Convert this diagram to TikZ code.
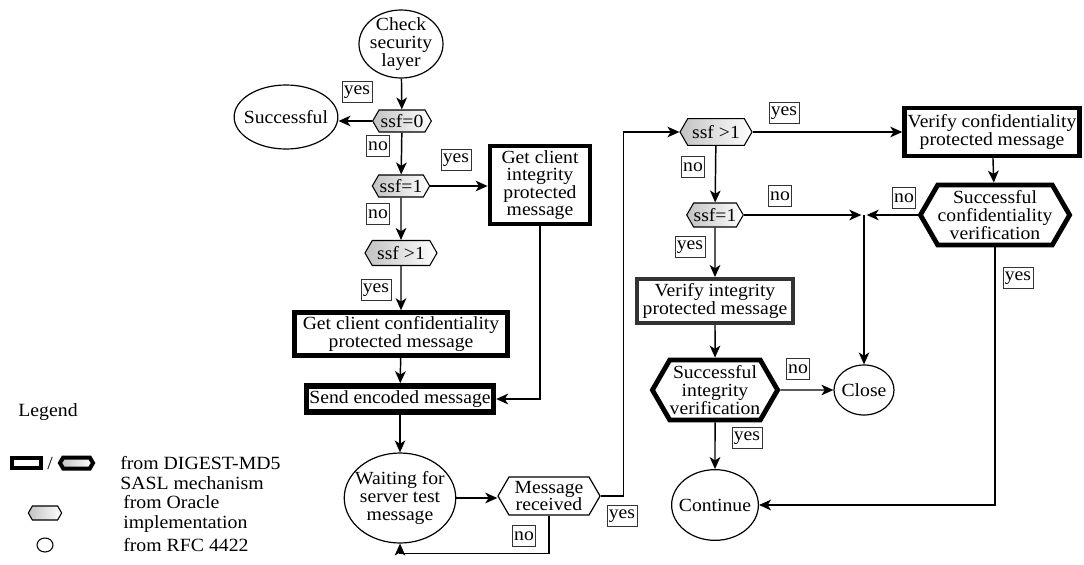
\documentclass[tikz,border=0pt]{standalone}
\usepackage{fontspec}
\setmainfont{Liberation Serif}[FakeStretch=1.06]
\usetikzlibrary{shapes.geometric,shapes.symbols,arrows.meta}

\begin{document}
\begin{tikzpicture}[x=0.75pt,y=-0.75pt,
  every node/.style={font=\fontsize{13.9}{13.2}\selectfont, inner sep=0pt},
  conn/.style={line width=1.1pt, draw=black},
  arr/.style={conn, -{Stealth[length=9pt,width=8pt,inset=2.5pt]}},
  oval/.style={ellipse, draw, line width=0.9pt, align=center, inner sep=-4pt},
  proc/.style={rectangle, draw, line width=3.6pt, fill=white, align=center},
  hexa/.style={signal, signal to=west and east, signal pointer angle=120, draw, align=center},
  cond/.style={hexa, line width=0.8pt, left color=black!24, right color=white},
  verif/.style={hexa, line width=3.6pt, fill=white},
  lbl/.style={draw=black!80, line width=0.6pt, fill=white, inner xsep=1.5pt, minimum height=15.5pt},
  legtext/.style={anchor=west, align=left, font=\fontsize{14}{15}\selectfont}
]
\useasboundingbox (0,0) rectangle (1084,564);

% ---------- left column: client side ----------
\node[oval, minimum width=63pt, minimum height=51pt] (chk) at (401,44) {Check\\security\\layer};
\node[oval, minimum width=66pt, minimum height=48pt] (succ) at (286,117) {Successful};
\node[cond, minimum width=44pt, minimum height=16.5pt] (s0) at (402,121) {ssf=0};
\node[cond, minimum width=43pt, minimum height=16.5pt] (s1) at (401,186) {ssf=1};
\node[cond, minimum width=54pt, minimum height=18.75pt] (s2) at (401,253) {ssf >1};
\node[proc, minimum width=75pt, minimum height=58.5pt] (gint) at (540,185) {Get client\\integrity\\protected\\message};
\node[proc, minimum width=160pt, minimum height=32pt] (gconf) at (401,334) {Get client confidentiality\\protected message};
\node[proc, line width=4.2pt, minimum width=140pt, minimum height=19.5pt] (send) at (400,399) {Send encoded message};
\node[oval, minimum width=82.5pt, minimum height=67.5pt] (wait) at (400,498) {Waiting for\\server test\\message};
\node[hexa, line width=0.9pt, fill=white, minimum width=76.5pt, minimum height=28.5pt] (msg) at (549,496) {Message\\received};

% ---------- right column: verification ----------
\node[cond, minimum width=54pt, minimum height=20pt] (t2) at (716,132) {ssf >1};
\node[cond, minimum width=42pt, minimum height=18pt] (t1) at (715,215) {ssf=1};
\node[proc, minimum width=131pt, minimum height=36pt] (vconf) at (992,132) {Verify confidentiality\\protected message};
\node[verif, minimum width=97.5pt, minimum height=45pt] (sconf) at (995,215) {Successful\\confidentiality\\verification};
\node[proc, line width=3pt, draw=black!80, minimum width=117pt, minimum height=33pt] (vint) at (715,301) {Verify integrity\\protected message};
\node[verif, minimum width=90pt, minimum height=45pt] (sint) at (715,390) {Successful\\integrity\\verification};
\node[oval, minimum width=45pt, minimum height=37.5pt] (close) at (864,390) {Close};
\node[oval, minimum width=63pt, minimum height=53pt] (cont) at (715,505) {Continue};
\coordinate (join) at (864,215);

% ---------- connectors ----------
\draw[arr] (chk) -- (s0);
\draw[arr] (s0.west) -- (s0.west -| succ.east);
\draw[arr] (s0) -- (s1);
\draw[arr] (s1.east) -- (s1.east -| gint.west);
\draw[arr] (s1) -- (s2);
\draw[arr] (s2) -- (gconf);
\draw[arr] (gconf) -- (send);
\draw[arr] (gint.south) |- (send.east);
\draw[arr] (send) -- (wait);
\draw[arr] (wait.east) -- (wait.east -| msg.west);
\draw[arr] (msg.south) -- ++(0,38) -| (wait.south);
\draw[arr] (msg.east) -- ++(23,0) |- (t2.west);
\draw[arr] (t2.east) -- (t2.east -| vconf.west);
\draw[arr] (t2) -- (t1);
\draw[arr] (t1.east) -- ([xshift=-2pt]join);
\draw[arr] (sconf.west) -- ([xshift=2pt]join);
\draw[arr] (join) -- (close);
\draw[arr] (vconf) -- (sconf);
\draw[arr] (t1) -- (vint);
\draw[arr] (vint) -- (sint);
\draw[arr] (sint) -- (close);
\draw[arr] (sint) -- (cont);
\draw[arr] (sconf.south) |- (cont.east);

% ---------- branch labels ----------
\node[lbl] (l1) at (357,92) {yes};
\node[lbl] (l2) at (378,146) {no};
\node[lbl] (l3) at (456,160) {yes};
\node[lbl] (l4) at (378,214) {no};
\node[lbl] (l5) at (376,290) {yes};
\node[lbl] (l6) at (524,536) {no};
\node[lbl] (l7) at (622,516) {yes};
\node[lbl] (l8) at (784,113) {yes};
\node[lbl] (l9) at (693,167) {no};
\node[lbl] (l10) at (780,196) {no};
\node[lbl] (l11) at (904,198) {no};
\node[lbl] (l12) at (690,247) {yes};
\node[lbl] (l13) at (798,369) {no};
\node[lbl] (l14) at (747,438) {yes};
\node[lbl] (l15) at (1018,278) {yes};

% ---------- legend ----------
\node[font=\fontsize{14}{15}\selectfont] (lg) at (48,412) {Legend};
\node[proc, line width=3pt, minimum width=21.75pt, minimum height=7.5pt] (lgbox) at (26.5,463) {};
\node (lgsl) at (50,463) {/};
\node[hexa, line width=3pt, left color=black!24, right color=white, minimum width=24.75pt, minimum height=8.25pt] (lghex) at (76.5,463) {};
\node[cond, minimum width=25pt, minimum height=10.5pt] (lgor) at (45,513) {};
\node[ellipse, draw, line width=0.8pt, minimum width=12pt, minimum height=10.5pt] (lgrfc) at (45,545) {};
\node[legtext] (lt1) at (120,473) {from DIGEST-MD5\\SASL mechanism};
\node[legtext] (lt2) at (123,514) {from Oracle\\implementation};
\node[legtext] (lt3) at (123,545) {from RFC 4422};
\end{tikzpicture}
\end{document}
